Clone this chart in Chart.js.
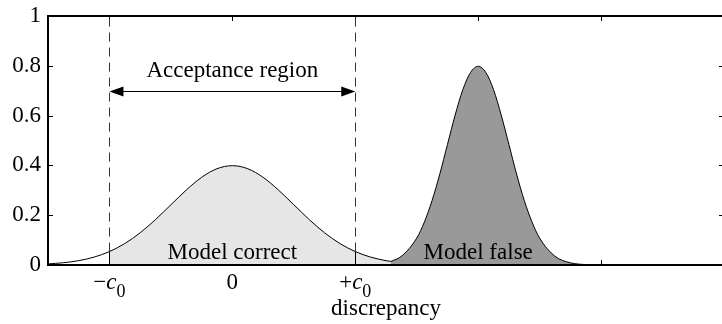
<!DOCTYPE html>
<html>
<head>
<meta charset="utf-8">
<script src="https://cdn.jsdelivr.net/npm/chart.js@4.4.0/dist/chart.umd.min.js"></script>
<style>
  html, body { margin: 0; padding: 0; overflow: hidden; background: #fff; }
  canvas { display: block; }
</style>
</head>
<body>
<canvas id="discChart" width="726" height="324"></canvas>
<script>
const FONT = '"Liberation Serif", "DejaVu Serif", serif';

// density when the model is correct, drawn up to where it meets the other one
const correctX = [-3, -2.75, -2.5, -2.25, -2, -1.75, -1.5, -1.25, -1, -0.75, -0.5, -0.25, 0,
  0.25, 0.5, 0.75, 1, 1.25, 1.5, 1.75, 2, 2.25, 2.5, 2.58];
const correctY = [0.0044, 0.0091, 0.0175, 0.0317, 0.054, 0.0863, 0.1295, 0.1826, 0.242, 0.3011, 0.3521, 0.3867, 0.3989,
  0.3867, 0.3521, 0.3011, 0.242, 0.1826, 0.1295, 0.0863, 0.054, 0.0317, 0.0175, 0.0143];

// density when the model is false (narrow peak)
const falseX = [2.58, 2.75, 3, 3.125, 3.25, 3.375, 3.5, 3.625, 3.75, 3.875, 4,
  4.125, 4.25, 4.375, 4.5, 4.625, 4.75, 4.875, 5, 5.25, 5.5, 5.75, 6, 6.5];
const falseY = [0.0143, 0.035, 0.108, 0.173, 0.259, 0.365, 0.484, 0.602, 0.704, 0.773, 0.798,
  0.773, 0.704, 0.602, 0.484, 0.365, 0.259, 0.173, 0.108, 0.035, 0.0089, 0.0017, 0.0003, 0];

const c0 = 2;
const xTicks = [-2, 0, 2, 4, 6, 8];
const xTickLabels = ['−c₀', '0', '+c₀', '', '', ''];
const yTicks = [0, 0.2, 0.4, 0.6, 0.8, 1];
const yTickLabels = ['0', '0.2', '0.4', '0.6', '0.8', '1'];
const regionNames = ['Model correct', 'Model false'];
const regionCentres = [0, 4];
const acceptLabel = 'Acceptance region';
const xTitle = 'discrepancy';

const toPoints = (xs, ys) => xs.map((v, i) => ({ x: v, y: ys[i] }));
const correctPts = toPoints(correctX, correctY);
const acceptPts = correctPts.filter(p => p.x >= -c0);
const falsePts = toPoints(falseX, falseY);
const curveAt = v => correctY[correctX.indexOf(v)];

// tick label with italic "c" and a lowered subscript zero
function drawTickLabel(ctx, text, cx, baseline) {
  const parts = [...text].map(ch => {
    if (ch === 'c') return { t: 'c', font: 'italic 23px ' + FONT, dy: 0 };
    if (ch === '₀') return { t: '0', font: '18px ' + FONT, dy: 8 };
    return { t: ch, font: '23px ' + FONT, dy: 0 };
  });
  let total = 0;
  parts.forEach(p => { ctx.font = p.font; p.w = ctx.measureText(p.t).width; total += p.w; });
  let px = cx - total / 2;
  ctx.textAlign = 'left';
  ctx.textBaseline = 'alphabetic';
  parts.forEach(p => { ctx.font = p.font; ctx.fillText(p.t, px, baseline + p.dy); px += p.w; });
}

const axesBox = {
  id: 'axesBox',
  beforeDatasetsDraw(chart) {
    const { ctx, chartArea: a, scales: { x, y } } = chart;
    ctx.save();
    ctx.strokeStyle = '#000';
    ctx.lineWidth = 1;
    ctx.beginPath();
    xTicks.forEach(v => {
      const px = Math.round(x.getPixelForValue(v)) + 0.5;
      ctx.moveTo(px, a.bottom); ctx.lineTo(px, a.bottom - 5);
      ctx.moveTo(px, a.top); ctx.lineTo(px, a.top + 5);
    });
    yTicks.forEach(v => {
      const py = Math.round(y.getPixelForValue(v)) + 0.5;
      ctx.moveTo(a.left, py); ctx.lineTo(a.left + 5, py);
      ctx.moveTo(a.right, py); ctx.lineTo(a.right - 5, py);
    });
    ctx.stroke();
    ctx.restore();
  },
  afterDatasetsDraw(chart) {
    const { ctx, chartArea: a, scales: { x, y } } = chart;
    ctx.save();

    // c0 limits: solid below the curve, dashed above it
    [-c0, c0].forEach(v => {
      const px = Math.round(x.getPixelForValue(v)) + 0.5;
      const pc = y.getPixelForValue(curveAt(v));
      ctx.strokeStyle = '#000';
      ctx.lineWidth = 1;
      ctx.setLineDash([]);
      ctx.beginPath(); ctx.moveTo(px, a.bottom); ctx.lineTo(px, pc); ctx.stroke();
      ctx.strokeStyle = '#333';
      ctx.setLineDash([9, 6]);
      ctx.beginPath(); ctx.moveTo(px, pc); ctx.lineTo(px, a.top); ctx.stroke();
    });
    ctx.setLineDash([]);

    // double arrow across the acceptance region
    const ay = Math.round(y.getPixelForValue(0.7)) + 0.5;
    const ax1 = x.getPixelForValue(-c0), ax2 = x.getPixelForValue(c0);
    ctx.strokeStyle = '#000';
    ctx.fillStyle = '#000';
    ctx.lineWidth = 1;
    ctx.beginPath(); ctx.moveTo(ax1 + 8, ay); ctx.lineTo(ax2 - 8, ay); ctx.stroke();
    ctx.beginPath(); ctx.moveTo(ax1, ay); ctx.lineTo(ax1 + 14, ay - 5); ctx.lineTo(ax1 + 14, ay + 5); ctx.closePath(); ctx.fill();
    ctx.beginPath(); ctx.moveTo(ax2, ay); ctx.lineTo(ax2 - 14, ay - 5); ctx.lineTo(ax2 - 14, ay + 5); ctx.closePath(); ctx.fill();

    // axes box (right edge falls just outside the page)
    ctx.lineWidth = 2;
    ctx.beginPath();
    ctx.moveTo(a.right, a.top); ctx.lineTo(a.left, a.top);
    ctx.lineTo(a.left, a.bottom); ctx.lineTo(a.right, a.bottom);
    ctx.stroke();

    // texts
    ctx.fillStyle = '#000';
    ctx.font = '23px ' + FONT;
    ctx.textAlign = 'center';
    ctx.textBaseline = 'alphabetic';
    ctx.fillText(acceptLabel, (ax1 + ax2) / 2, y.getPixelForValue(0.757));
    regionNames.forEach((name, i) => {
      ctx.fillText(name, x.getPixelForValue(regionCentres[i]), y.getPixelForValue(0.026));
    });

    ctx.textAlign = 'right';
    ctx.textBaseline = 'middle';
    yTicks.forEach((v, i) => ctx.fillText(yTickLabels[i], a.left - 7, y.getPixelForValue(v)));

    xTicks.forEach((v, i) => {
      if (xTickLabels[i]) drawTickLabel(ctx, xTickLabels[i], x.getPixelForValue(v), a.bottom + 24);
    });

    ctx.font = '23px ' + FONT;
    ctx.textAlign = 'center';
    ctx.textBaseline = 'alphabetic';
    ctx.fillText(xTitle, (a.left + a.right) / 2, a.bottom + 50);
    ctx.restore();
  }
};

new Chart(document.getElementById('discChart'), {
  type: 'line',
  data: {
    datasets: [
      {
        data: acceptPts,
        order: 3,
        fill: 'origin',
        backgroundColor: '#e6e6e6',
        borderWidth: 0,
        pointRadius: 0,
        cubicInterpolationMode: 'monotone'
      },
      {
        data: correctPts,
        order: 2,
        fill: false,
        borderColor: '#000',
        borderWidth: 1,
        pointRadius: 0,
        cubicInterpolationMode: 'monotone'
      },
      {
        data: falsePts,
        order: 1,
        fill: 'origin',
        backgroundColor: '#999999',
        borderColor: '#000',
        borderWidth: 1,
        pointRadius: 0,
        cubicInterpolationMode: 'monotone'
      }
    ]
  },
  options: {
    responsive: false,
    animation: false,
    layout: { padding: { left: 48, top: 16, right: 2, bottom: 59 } },
    plugins: { legend: { display: false }, tooltip: { enabled: false } },
    scales: {
      x: { type: 'linear', min: -3, max: 8, display: false },
      y: { type: 'linear', min: 0, max: 1, display: false }
    }
  },
  plugins: [axesBox]
});
</script>
</body>
</html>
